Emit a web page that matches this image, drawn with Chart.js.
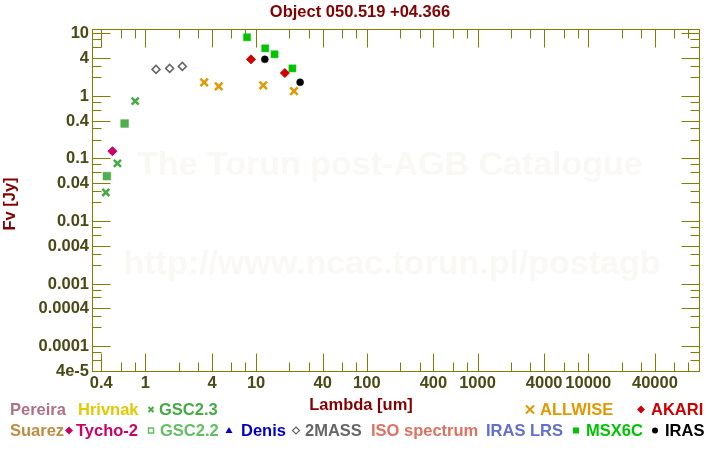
<!DOCTYPE html>
<html>
<head>
<meta charset="utf-8">
<title>Object 050.519 +04.366</title>
<script src="https://cdn.jsdelivr.net/npm/chart.js@4"></script>
<style>
  body { margin: 0; background: #fff; }
  #sed { display: block; }
</style>
</head>
<body>
<canvas id="sed" width="720" height="450"></canvas>
<script>
const titleText = "Object 050.519 +04.366";
const xTitle = "Lambda [um]";
const yTitle = "Fv [Jy]";

// photometry: wavelength [um], flux [Jy]
const gsc23Lambda = [0.44, 0.56, 0.81];
const gsc23Flux = [0.0285, 0.083, 0.82];
const gsc22Lambda = [0.45, 0.65];
const gsc22Flux = [0.052, 0.36];
const tychoLambda = [0.505];
const tychoFlux = [0.13];
const twomassLambda = [1.25, 1.66, 2.16];
const twomassFlux = [2.64, 2.74, 2.95];
const allwiseLambda = [3.4, 4.6, 11.6, 22.0];
const allwiseFlux = [1.64, 1.41, 1.47, 1.19];
const akariLambda = [9.0, 18.2];
const akariFlux = [3.82, 2.31];
const msxLambda = [8.3, 12.1, 14.7, 21.3];
const msxFlux = [8.6, 5.73, 4.6, 2.74];
const irasLambda = [12, 25];
const irasFlux = [3.82, 1.64];

// axis ticks
const xMajorTicks = [0.4, 1, 4, 10, 40, 100, 400, 1000, 4000, 10000, 40000];
const xTickLabels = ["0.4", "1", "4", "10", "40", "100", "400", "1000", "4000", "10000", "40000"];
const xMinorTicks = [0.6, 0.8, 2, 3, 6, 8, 20, 30, 60, 80, 200, 300, 600, 800,
  2000, 3000, 6000, 8000, 20000, 30000, 60000, 80000];
const yMajorTicks = [4e-5, 1e-4, 4e-4, 1e-3, 4e-3, 0.01, 0.04, 0.1, 0.4, 1, 4, 10];
const yTickLabels = ["4e-5", "0.0001", "0.0004", "0.001", "0.004", "0.01", "0.04", "0.1", "0.4", "1", "4", "10"];
const yMinorTicks = [6e-5, 8e-5, 2e-4, 3e-4, 6e-4, 8e-4, 2e-3, 3e-3, 6e-3, 8e-3,
  0.02, 0.03, 0.06, 0.08, 0.2, 0.3, 0.6, 0.8, 2, 3, 6, 8];

// legend rows (catalogue names as shown under the plot)
const legendRow1 = ["Pereira", "Hrivnak", "GSC2.3", "ALLWISE", "AKARI"];
const legendRow2 = ["Suarez", "Tycho-2", "GSC2.2", "Denis", "2MASS", "ISO spectrum", "IRAS LRS", "MSX6C", "IRAS"];

const axisColor = "#808000";
const tickTextColor = "#4a4a16";
const titleColor = "#850000";
const FONT = '"Liberation Sans", Arial, sans-serif';

const colors = {
  "Pereira": "#b07088", "Hrivnak": "#e6c800", "GSC2.3": "#44aa44",
  "ALLWISE": "#e09a00", "AKARI": "#cc0000", "Suarez": "#c08c40",
  "Tycho-2": "#cc0066", "GSC2.2": "#62bf62", "Denis": "#0000cc",
  "2MASS": "#666666", "ISO spectrum": "#e07060", "IRAS LRS": "#6070d0",
  "MSX6C": "#00c400", "IRAS": "#000000"
};

// where each legend entry sits: [marker x or null, text x]
const legendPlace = {
  "Pereira": [null, 10], "Hrivnak": [null, 78], "GSC2.3": [151, 159],
  "ALLWISE": [530, 540], "AKARI": [641, 651],
  "Suarez": [null, 10], "Tycho-2": [69, 76], "GSC2.2": [151, 160],
  "Denis": [229, 241], "2MASS": [296, 305], "ISO spectrum": [null, 371],
  "IRAS LRS": [null, 486], "MSX6C": [576, 586], "IRAS": [655, 665]
};
const legendMarker = {
  "GSC2.3": "cross", "ALLWISE": "bigcross", "AKARI": "diamond",
  "Tycho-2": "diamond", "GSC2.2": "opensquare", "Denis": "triangle",
  "2MASS": "opendiamond", "MSX6C": "square", "IRAS": "circle"
};

const pts = (xs, ys) => xs.map((x, i) => ({ x: x, y: ys[i] }));

function drawMarker(ctx, kind, x, y, color) {
  ctx.save();
  ctx.fillStyle = color;
  ctx.strokeStyle = color;
  ctx.lineWidth = 2;
  ctx.beginPath();
  if (kind === "cross" || kind === "bigcross") {
    const s = kind === "cross" ? 2.5 : 4;
    ctx.moveTo(x - s, y - s); ctx.lineTo(x + s, y + s);
    ctx.moveTo(x + s, y - s); ctx.lineTo(x - s, y + s);
    ctx.stroke();
  } else if (kind === "diamond" || kind === "opendiamond") {
    const s = kind === "diamond" ? 4 : 3.5;
    ctx.moveTo(x, y - s); ctx.lineTo(x + s, y); ctx.lineTo(x, y + s); ctx.lineTo(x - s, y);
    ctx.closePath();
    if (kind === "diamond") ctx.fill();
    else { ctx.lineWidth = 1.2; ctx.stroke(); }
  } else if (kind === "opensquare") {
    ctx.lineWidth = 1.5;
    ctx.strokeRect(x - 2.5, y - 2.5, 5, 5);
  } else if (kind === "square") {
    ctx.fillRect(x - 3, y - 3, 6, 6);
  } else if (kind === "triangle") {
    ctx.moveTo(x, y - 3.5); ctx.lineTo(x + 3.5, y + 2.5); ctx.lineTo(x - 3.5, y + 2.5);
    ctx.closePath(); ctx.fill();
  } else if (kind === "circle") {
    ctx.arc(x, y, 3, 0, Math.PI * 2); ctx.fill();
  }
  ctx.restore();
}

const frame = {
  id: "frame",
  beforeDatasetsDraw(chart) {
    const { ctx, chartArea: a, scales: { x, y } } = chart;
    ctx.save();
    // faint watermark
    ctx.fillStyle = "#faf8f4";
    ctx.font = "bold 34px " + FONT;
    ctx.textAlign = "center";
    ctx.textBaseline = "alphabetic";
    ctx.fillText("The Torun post-AGB Catalogue", 390, 175);
    ctx.fillText("http://www.ncac.torun.pl/postagb", 392, 274);

    ctx.strokeStyle = axisColor;
    ctx.lineWidth = 1;
    const L = a.left + 0.5, R = a.right + 0.5, T = a.top + 0.5, B = a.bottom + 0.5;
    ctx.strokeRect(L, T, R - L, B - T);
    ctx.beginPath();
    const xt = (v, len) => {
      const px = Math.round(x.getPixelForValue(v)) + 0.5;
      ctx.moveTo(px, T); ctx.lineTo(px, T + len);
      ctx.moveTo(px, B); ctx.lineTo(px, B - len);
    };
    const yt = (v, len) => {
      const py = Math.round(y.getPixelForValue(v)) + 0.5;
      ctx.moveTo(L, py); ctx.lineTo(L + len, py);
      ctx.moveTo(R, py); ctx.lineTo(R - len, py);
    };
    xMajorTicks.forEach(v => xt(v, 18));
    xMinorTicks.forEach(v => xt(v, 9));
    yMajorTicks.forEach(v => yt(v, 18));
    yMinorTicks.forEach(v => yt(v, 9));
    ctx.stroke();
    ctx.restore();
  },
  afterDraw(chart) {
    const { ctx, scales: { x, y } } = chart;
    ctx.save();
    ctx.font = "bold 16.5px " + FONT;
    ctx.fillStyle = tickTextColor;
    ctx.textAlign = "right";
    ctx.textBaseline = "middle";
    yMajorTicks.forEach((v, i) => ctx.fillText(yTickLabels[i], 89, y.getPixelForValue(v) + 0.5));
    ctx.textAlign = "center";
    ctx.textBaseline = "alphabetic";
    xMajorTicks.forEach((v, i) => ctx.fillText(xTickLabels[i], x.getPixelForValue(v), 388));

    ctx.fillStyle = titleColor;
    ctx.fillText(titleText, 360, 17);
    ctx.fillText(xTitle, 361, 410);
    ctx.save();
    ctx.translate(15, 204);
    ctx.rotate(-Math.PI / 2);
    ctx.fillText(yTitle, 0, 0);
    ctx.restore();

    ctx.textAlign = "left";
    const row = (names, baseY) => names.forEach(n => {
      const [mx, tx] = legendPlace[n];
      if (mx !== null) drawMarker(ctx, legendMarker[n], mx, baseY - 5.5, colors[n]);
      ctx.fillStyle = colors[n];
      ctx.fillText(n, tx, baseY);
    });
    row(legendRow1, 415);
    row(legendRow2, 436);
    ctx.restore();
  }
};

new Chart(document.getElementById("sed"), {
  type: "scatter",
  data: {
    datasets: [
      { label: "GSC2.2", data: pts(gsc22Lambda, gsc22Flux), pointStyle: "rect", pointRadius: 5.5,
        backgroundColor: "#4fae4f", borderColor: "#4fae4f", borderWidth: 0.5 },
      { label: "GSC2.3", data: pts(gsc23Lambda, gsc23Flux), pointStyle: "crossRot", pointRadius: 5,
        borderColor: colors["GSC2.3"], borderWidth: 2.5 },
      { label: "Tycho-2", data: pts(tychoLambda, tychoFlux), pointStyle: "rectRot", pointRadius: 4.5,
        backgroundColor: colors["Tycho-2"], borderColor: colors["Tycho-2"], borderWidth: 1 },
      { label: "2MASS", data: pts(twomassLambda, twomassFlux), pointStyle: "rectRot", pointRadius: 4,
        backgroundColor: "rgba(0,0,0,0)", borderColor: colors["2MASS"], borderWidth: 1.5 },
      { label: "ALLWISE", data: pts(allwiseLambda, allwiseFlux), pointStyle: "crossRot", pointRadius: 5.3,
        borderColor: colors["ALLWISE"], borderWidth: 2.5 },
      { label: "AKARI", data: pts(akariLambda, akariFlux), pointStyle: "rectRot", pointRadius: 4.5,
        backgroundColor: colors["AKARI"], borderColor: colors["AKARI"], borderWidth: 1 },
      { label: "MSX6C", data: pts(msxLambda, msxFlux), pointStyle: "rect", pointRadius: 5,
        backgroundColor: colors["MSX6C"], borderColor: colors["MSX6C"], borderWidth: 0.5 },
      { label: "IRAS", data: pts(irasLambda, irasFlux), pointStyle: "circle", pointRadius: 3.5,
        backgroundColor: colors["IRAS"], borderColor: colors["IRAS"], borderWidth: 0.5 }
    ]
  },
  options: {
    responsive: false,
    animation: false,
    layout: { padding: { left: 92, right: 21, top: 29, bottom: 79 } },
    plugins: { legend: { display: false }, tooltip: { enabled: false } },
    scales: {
      x: { type: "logarithmic", min: 0.33, max: 100000, bounds: "data", display: false },
      y: { type: "logarithmic", min: 4e-5, max: 11.67, bounds: "data", display: false }
    }
  },
  plugins: [frame]
});
</script>
</body>
</html>
